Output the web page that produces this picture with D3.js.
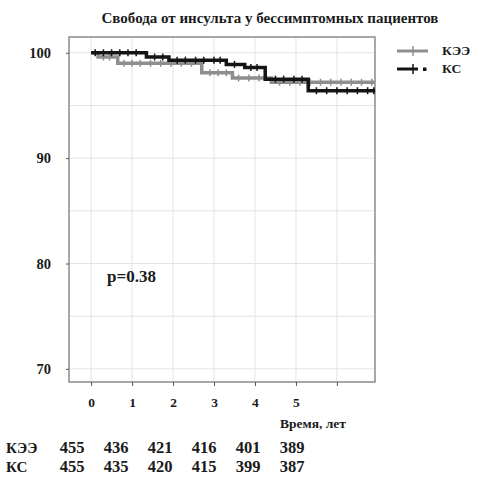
<!DOCTYPE html>
<html>
<head>
<meta charset="utf-8">
<script src="https://cdn.jsdelivr.net/npm/d3@7"></script>
<style>
  body { margin: 0; background: #fff; }
  svg text { font-family: "Liberation Serif", "Tinos", "DejaVu Serif", serif !important; font-weight: bold; fill: #1a1a1a; }
</style>
</head>
<body>
<svg id="chart" width="486" height="481"></svg>
<script>
// значения
const groups = ["КЭЭ", "КС"]
const keeTimes = [0, 0.17, 0.65, 2.7, 3.45, 4.4]
const keeSurv = [100, 99.6, 99.0, 98.1, 97.6, 97.2]
const ksTimes = [0, 1.35, 1.9, 3.3, 3.75, 4.25, 5.3]
const ksSurv = [100, 99.6, 99.3, 98.9, 98.6, 97.5, 96.4]
const keeCensor = [0.3, 0.45, 0.8, 1.0, 1.2, 1.45, 1.7, 1.95, 2.2, 2.45, 2.9, 3.1, 3.3, 3.6, 3.85, 4.1, 4.6, 4.85, 5.1, 5.35, 5.6, 5.85, 6.1, 6.35, 6.6, 6.85]
const ksCensor = [0.1, 0.3, 0.5, 0.7, 0.9, 1.1, 1.55, 1.75, 2.1, 2.3, 2.55, 2.75, 3.0, 3.15, 3.5, 3.9, 4.05, 4.5, 4.7, 4.95, 5.15, 5.5, 5.75, 6.0, 6.25, 6.5, 6.75, 6.9]
const xTicks = [0, 1, 2, 3, 4, 5, 6]
const xLabels = ["0", "1", "2", "3", "4", "5", ""]
const yTicks = [70, 80, 90, 100]
const yGrid = [70, 75, 80, 85, 90, 95, 100]
const riskYears = [0, 1, 2, 3, 4, 5]
const atRiskKee = [455, 436, 421, 416, 401, 389]
const atRiskKs = [455, 435, 420, 415, 399, 387]
const pText = "p=0.38"

const svg = d3.select("#chart")
const x = d3.scaleLinear().domain([-0.54, 6.93]).range([69, 375])
const y = d3.scaleLinear().domain([68.75, 101.5]).range([382, 37])
const xEnd = x.domain()[1]
// колонки таблицы идут чуть шире, чем деления оси
const col = d3.scaleLinear().domain([0, 5]).range([72, 292])

// заголовок
svg.append("text")
  .attr("x", 270).attr("y", 23)
  .attr("text-anchor", "middle")
  .style("font-size", "15px")
  .text("Свобода от инсульта у бессимптомных пациентов")

// сетка
svg.append("g").selectAll("line").data(xTicks).join("line")
  .attr("x1", d => x(d)).attr("x2", d => x(d))
  .attr("y1", y.range()[1]).attr("y2", y.range()[0])
  .attr("stroke", "#e3e3e3").attr("stroke-width", 1)
svg.append("g").selectAll("line").data(yGrid).join("line")
  .attr("x1", x.range()[0]).attr("x2", x.range()[1])
  .attr("y1", d => y(d)).attr("y2", d => y(d))
  .attr("stroke", "#e3e3e3").attr("stroke-width", 1)

// рамка
svg.append("rect")
  .attr("x", x.range()[0]).attr("y", y.range()[1])
  .attr("width", x.range()[1] - x.range()[0])
  .attr("height", y.range()[0] - y.range()[1])
  .attr("fill", "none").attr("stroke", "#8a8a8a").attr("stroke-width", 1.5)

// оси
const xAxis = svg.append("g")
  .attr("transform", `translate(0,${y.range()[0]})`)
  .call(d3.axisBottom(x).tickValues(xTicks).tickFormat((d, i) => xLabels[i]).tickSize(4).tickPadding(11))
xAxis.select(".domain").remove()
xAxis.selectAll("line").attr("stroke", "#555")
xAxis.selectAll("text").style("font-size", "13.5px")

const yAxis = svg.append("g")
  .attr("transform", `translate(${x.range()[0]},0)`)
  .call(d3.axisLeft(y).tickValues(yTicks).tickSize(3).tickPadding(15))
yAxis.select(".domain").remove()
yAxis.selectAll("line").attr("stroke", "#555")
yAxis.selectAll("text").style("font-size", "14.5px")

svg.append("text")
  .attr("x", 280).attr("y", 428)
  .style("font-size", "13.5px")
  .text("Время, лет")

// кривые Каплана-Мейера
function stepData(times, surv) {
  const pts = times.map((t, i) => [t, surv[i]])
  pts.push([xEnd, surv[surv.length - 1]])
  return pts
}
function survAt(times, surv, t) {
  let v = surv[0]
  times.forEach((tt, i) => { if (tt <= t) v = surv[i] })
  return v
}
const line = d3.line().x(d => x(d[0])).y(d => y(d[1])).curve(d3.curveStepAfter)

const series = [
  { times: keeTimes, surv: keeSurv, censor: keeCensor, color: "#8e8e8e" },
  { times: ksTimes, surv: ksSurv, censor: ksCensor, color: "#141414" }
]

series.forEach(s => {
  svg.append("path")
    .datum(stepData(s.times, s.surv))
    .attr("d", line)
    .attr("fill", "none")
    .attr("stroke", s.color)
    .attr("stroke-width", 3.5)
  svg.append("g").selectAll("line").data(s.censor).join("line")
    .attr("x1", d => x(d)).attr("x2", d => x(d))
    .attr("y1", d => y(survAt(s.times, s.surv, d)) - 3.5)
    .attr("y2", d => y(survAt(s.times, s.surv, d)) + 3.5)
    .attr("stroke", s.color)
    .attr("stroke-width", 1.5)
})

// p-value
svg.append("text")
  .attr("x", 107).attr("y", 282)
  .style("font-size", "17px")
  .text(pText)

// легенда
const legend = svg.append("g")
legend.append("line").attr("x1", 397).attr("x2", 428).attr("y1", 51).attr("y2", 51)
  .attr("stroke", series[0].color).attr("stroke-width", 3)
legend.append("line").attr("x1", 413).attr("x2", 413).attr("y1", 46).attr("y2", 56)
  .attr("stroke", series[0].color).attr("stroke-width", 1.5)
legend.append("line").attr("x1", 397).attr("x2", 418).attr("y1", 69).attr("y2", 69)
  .attr("stroke", series[1].color).attr("stroke-width", 3)
legend.append("line").attr("x1", 413).attr("x2", 413).attr("y1", 64).attr("y2", 74)
  .attr("stroke", series[1].color).attr("stroke-width", 1.5)
legend.append("rect").attr("x", 423).attr("y", 67.5).attr("width", 3.5).attr("height", 3.5)
  .attr("fill", series[1].color)
legend.selectAll("text").data(groups).join("text")
  .attr("x", 442).attr("y", (d, i) => 55 + i * 18)
  .style("font-size", "13.5px")
  .text(d => d)

// таблица числа пациентов под риском
const riskRows = [atRiskKee, atRiskKs]
riskRows.forEach((row, r) => {
  const ry = 453 + r * 19
  svg.append("text").attr("x", 6).attr("y", ry)
    .style("font-size", "15px").text(groups[r])
  svg.append("g").selectAll("text").data(row).join("text")
    .attr("x", (d, i) => col(riskYears[i]))
    .attr("y", ry)
    .attr("text-anchor", "middle")
    .style("font-size", "16.5px")
    .text(d => d)
})
</script>
</body>
</html>
